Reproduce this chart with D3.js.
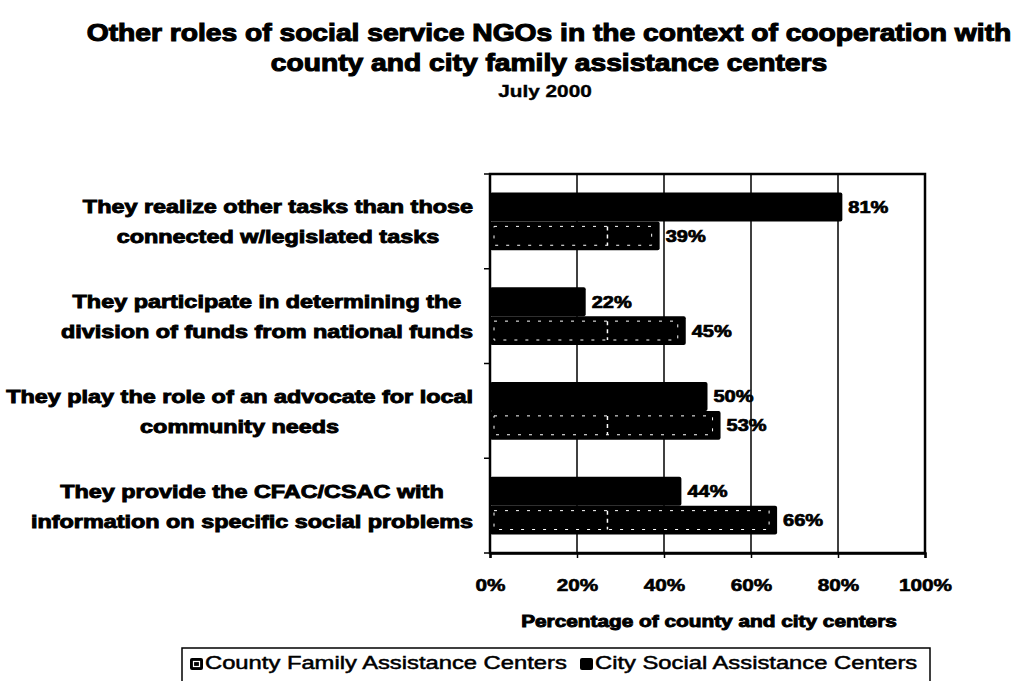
<!DOCTYPE html>
<html>
<head>
<meta charset="utf-8">
<script src="https://cdn.jsdelivr.net/npm/d3@7"></script>
<style>
  html, body { margin: 0; padding: 0; background: #fff; }
  svg { display: block; font-family: "Liberation Sans", Arial, sans-serif; }
</style>
</head>
<body>
<svg id="chart" width="1020" height="681"></svg>
<script>
// Categories (top to bottom) and series values in percent
const categories = [
  ["They realize other tasks than those", "connected w/legislated tasks"],
  ["They participate in determining the", "division of funds from national funds"],
  ["They play the role of an advocate for local", "community needs"],
  ["They provide the CFAC/CSAC with", "information on specific social problems"]
];
const citySocial = [81, 22, 50, 44];
const countyFamily = [39, 45, 53, 66];
const seriesNames = ["County Family Assistance Centers", "City Social Assistance Centers"];
const xTicks = [0, 20, 40, 60, 80, 100];

const titleLines = [
  "Other roles of social service NGOs in the context of cooperation with",
  "county and city family assistance centers"
];
const subtitle = "July 2000";
const xAxisTitle = "Percentage of county and city centers";

const svg = d3.select("#chart");
const plot = { left: 490, right: 925, top: 174, bottom: 553 };

const x = d3.scaleLinear().domain([0, 100]).range([plot.left, plot.right]);
const y = d3.scaleBand().domain(d3.range(categories.length)).range([plot.top, plot.bottom]);
const inner = d3.scaleBand().domain(["city", "county"]).range([0, y.bandwidth()]).paddingOuter(0.64);

// The lettering is a wide, heavy grotesque: widen the available bold face horizontally.
function widen(sel, k, anchor) {
  sel.each(function () {
    const t = d3.select(this);
    const w = this.getComputedTextLength() * k;
    const x0 = +t.attr("x");
    t.attr("text-anchor", "start")
      .attr("textLength", w).attr("lengthAdjust", "spacingAndGlyphs")
      .attr("x", anchor === "middle" ? x0 - w / 2 : anchor === "end" ? x0 - w : x0);
  });
  return sel;
}

// Titles
const titles = svg.append("g").selectAll("text").data(titleLines).join("text")
  .attr("x", 549).attr("y", (d, i) => 41 + i * 30)
  .attr("font-size", 24).attr("font-weight", "bold")
  .attr("stroke", "#000").attr("stroke-width", 1.1)
  .text(d => d);
widen(titles, 1.175, "middle");
widen(svg.append("text").attr("x", 545).attr("y", 97)
  .attr("font-size", 17).attr("font-weight", "bold")
  .attr("stroke", "#000").attr("stroke-width", 0.4).text(subtitle), 1.22, "middle");

// Plot frame and gridlines
svg.append("rect").attr("x", plot.left).attr("y", plot.top)
  .attr("width", plot.right - plot.left).attr("height", plot.bottom - plot.top)
  .attr("fill", "#fff").attr("stroke", "#000").attr("stroke-width", 2.5);
svg.append("g").selectAll("line").data(xTicks.slice(1, -1)).join("line")
  .attr("x1", d => x(d)).attr("x2", d => x(d))
  .attr("y1", plot.top).attr("y2", plot.bottom)
  .attr("stroke", "#000").attr("stroke-width", 1.5);

// Bars
const groups = svg.append("g").selectAll("g").data(categories).join("g")
  .attr("transform", (d, i) => `translate(0,${y(i)})`);

groups.append("rect")
  .attr("x", x(0)).attr("y", inner("city"))
  .attr("width", (d, i) => x(citySocial[i]) - x(0))
  .attr("height", inner.bandwidth())
  .attr("fill", "#000").attr("rx", 2);

groups.append("rect")
  .attr("x", x(0)).attr("y", inner("county"))
  .attr("width", (d, i) => x(countyFamily[i]) - x(0))
  .attr("height", inner.bandwidth())
  .attr("fill", "#000").attr("rx", 2);
// dotted inset of the patterned county bars
groups.append("rect")
  .attr("x", x(0) + 4).attr("y", inner("county") + 5)
  .attr("width", (d, i) => x(countyFamily[i]) - x(0) - 12)
  .attr("height", inner.bandwidth() - 10)
  .attr("fill", "none").attr("stroke", "#fff").attr("stroke-width", 1)
  .attr("stroke-dasharray", "3,8");
groups.append("line")
  .attr("x1", x(27)).attr("x2", x(27))
  .attr("y1", inner("county") + 5).attr("y2", inner("county") + inner.bandwidth() - 5)
  .attr("stroke", "#fff").attr("stroke-width", 1.5).attr("stroke-dasharray", "4,4");

// Value labels
groups.append("text")
  .attr("x", (d, i) => x(citySocial[i]) + 6)
  .attr("y", inner("city") + inner.bandwidth() / 2 + 6)
  .attr("font-size", 16).attr("font-weight", "bold")
  .attr("stroke", "#000").attr("stroke-width", 0.7)
  .text((d, i) => citySocial[i] + "%")
  .call(widen, 1.25, "start");
groups.append("text")
  .attr("x", (d, i) => x(countyFamily[i]) + 6)
  .attr("y", inner("county") + inner.bandwidth() / 2 + 6)
  .attr("font-size", 16).attr("font-weight", "bold")
  .attr("stroke", "#000").attr("stroke-width", 0.7)
  .text((d, i) => countyFamily[i] + "%")
  .call(widen, 1.25, "start");

// Category labels: lines centred on each other, widest line ending beside the axis
const labelK = 1.3;
groups.each(function (lines) {
  const g = d3.select(this);
  const mid = y.bandwidth() / 2;
  const texts = g.selectAll("text.cat").data(lines).join("text")
    .attr("class", "cat")
    .attr("y", (d, i) => mid - 8 + i * 30)
    .attr("font-size", 18).attr("font-weight", "bold")
    .attr("stroke", "#000").attr("stroke-width", 0.9)
    .text(d => d);
  const widths = texts.nodes().map(n => n.getComputedTextLength() * labelK);
  const cx = 473 - d3.max(widths) / 2;
  texts.attr("x", cx).call(widen, labelK, "middle");
});

// Left axis tick marks
svg.append("g").selectAll("line").data(d3.range(categories.length + 1)).join("line")
  .attr("x1", plot.left - 6).attr("x2", plot.left)
  .attr("y1", d => plot.top + d * y.step()).attr("y2", d => plot.top + d * y.step())
  .attr("stroke", "#000").attr("stroke-width", 1.5);

// Bottom axis
const xAxis = svg.append("g").attr("transform", `translate(0,${plot.bottom})`)
  .call(d3.axisBottom(x).tickValues(xTicks).tickFormat(d => d + "%").tickSize(5).tickPadding(21));
xAxis.select(".domain").attr("stroke-width", 2.5);
xAxis.selectAll("line").attr("stroke-width", 1.5);
xAxis.selectAll("text").attr("font-size", 17).attr("font-weight", "bold")
  .attr("font-family", "Liberation Sans, Arial, sans-serif")
  .attr("stroke", "#000").attr("stroke-width", 0.6)
  .attr("x", 0)
  .call(widen, 1.22, "middle");

widen(svg.append("text").attr("x", 709).attr("y", 627)
  .attr("font-size", 16).attr("font-weight", "bold")
  .attr("stroke", "#000").attr("stroke-width", 0.9)
  .text(xAxisTitle), 1.3, "middle");

// Legend
const legend = svg.append("g");
legend.append("rect").attr("x", 182).attr("y", 648).attr("width", 748).attr("height", 40)
  .attr("fill", "#fff").attr("stroke", "#000").attr("stroke-width", 1.5);
const items = legend.selectAll("g").data(seriesNames).join("g")
  .attr("transform", (d, i) => `translate(${i === 0 ? 190 : 580},658)`);
items.append("rect").attr("width", 13).attr("height", 12).attr("rx", 2).attr("fill", "#000");
items.filter((d, i) => i === 0).append("rect")
  .attr("x", 3.5).attr("y", 3.5).attr("width", 6).attr("height", 5)
  .attr("fill", "none").attr("stroke", "#fff").attr("stroke-width", 1.2);
items.append("text").attr("x", 15).attr("y", 11)
  .attr("font-size", 18).attr("stroke", "#000").attr("stroke-width", 0.5)
  .text(d => d)
  .call(widen, 1.32, "start");
</script>
</body>
</html>
